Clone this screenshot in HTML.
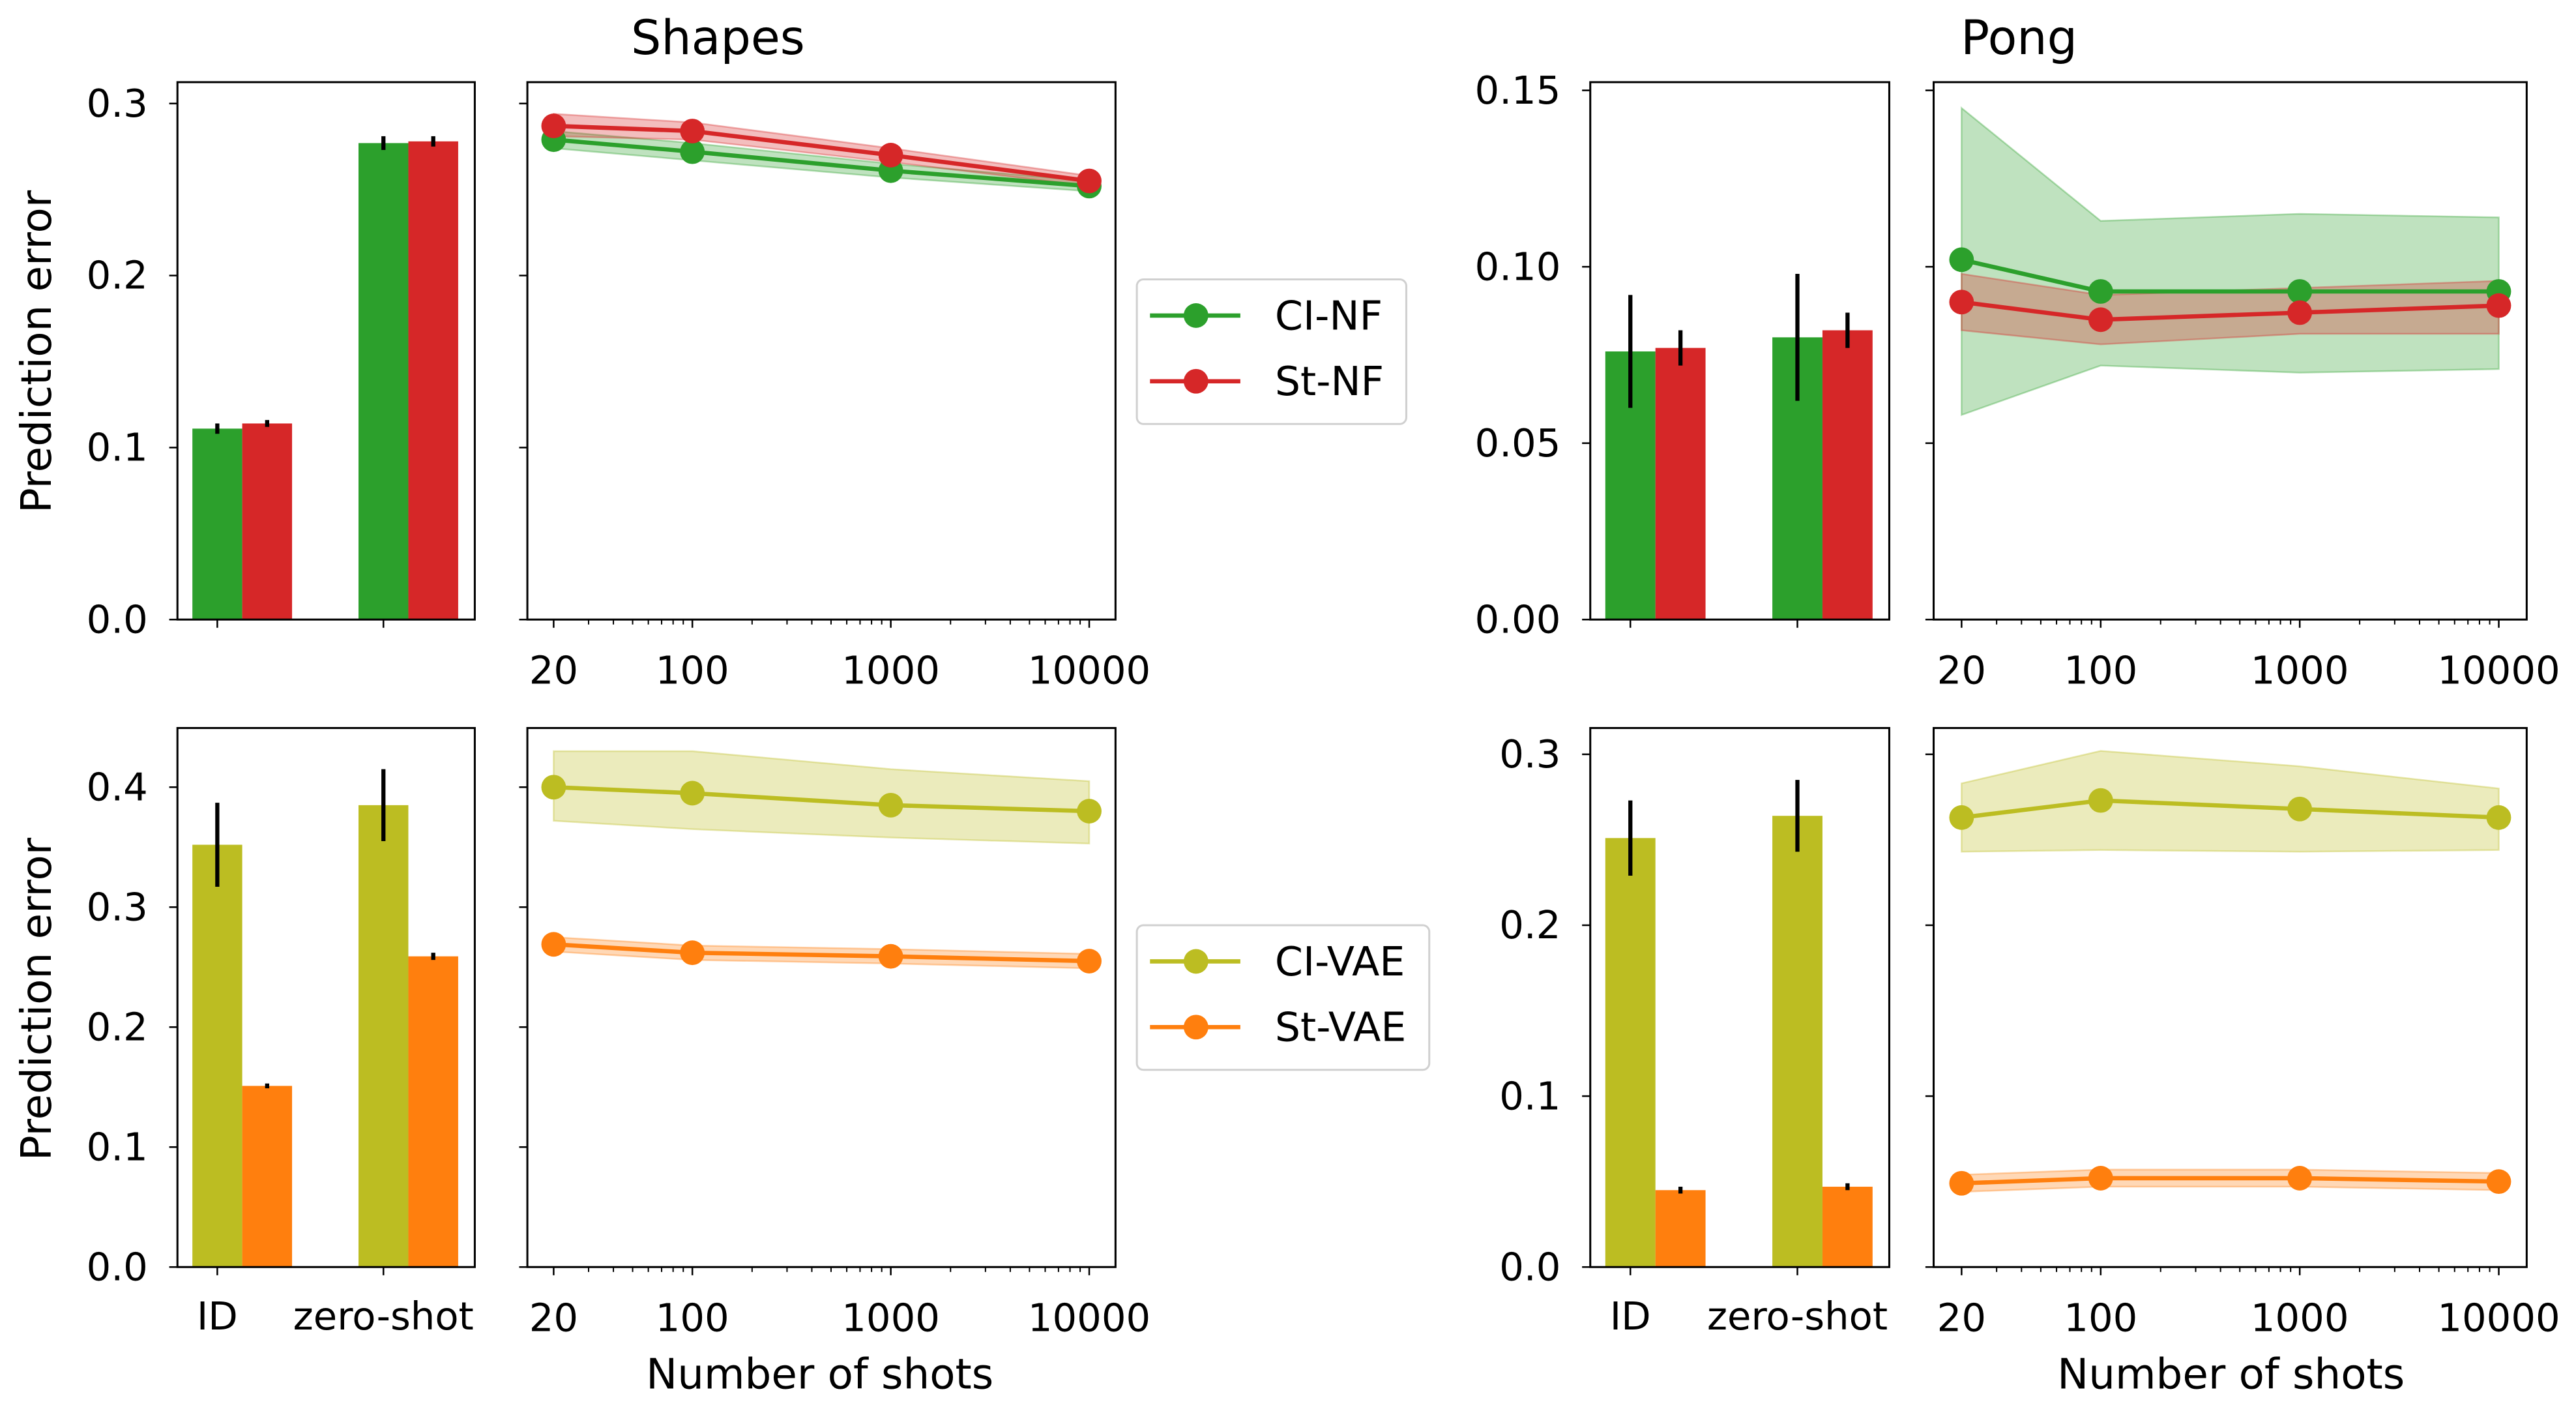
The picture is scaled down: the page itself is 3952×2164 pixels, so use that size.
<!DOCTYPE html>
<html><head><meta charset="utf-8"><style>
html,body{margin:0;padding:0;background:#fff}
svg{display:block}
text{font-family:"DejaVu Sans","Liberation Sans",sans-serif;fill:#000}
</style></head><body>
<svg id="fig" width="3952" height="2164" viewBox="0 0 1568 858.6" xmlns="http://www.w3.org/2000/svg"></svg>
<script>
// ---------- data ----------
const barCats = ["ID","zero-shot"];
const shots = [20,100,1000,10000];
const xTickLabels = ["20","100","1000","10000"];
// Shapes NF
const shNF_barCI = [0.111,0.277], shNF_barCIerr=[0.003,0.004];
const shNF_barSt = [0.114,0.278], shNF_barSterr=[0.002,0.003];
const shNF_lineCI = [0.279,0.272,0.261,0.252], shNF_lineCIlo=[0.274,0.267,0.257,0.249], shNF_lineCIhi=[0.284,0.277,0.265,0.255];
const shNF_lineSt = [0.287,0.284,0.270,0.255], shNF_lineStlo=[0.281,0.279,0.266,0.252], shNF_lineSthi=[0.294,0.289,0.274,0.258];
// Pong NF
const pgNF_barCI = [0.076,0.080], pgNF_barCIerr=[0.016,0.018];
const pgNF_barSt = [0.077,0.082], pgNF_barSterr=[0.005,0.005];
const pgNF_lineCI = [0.102,0.093,0.093,0.093], pgNF_lineCIlo=[0.058,0.072,0.070,0.071], pgNF_lineCIhi=[0.145,0.113,0.115,0.114];
const pgNF_lineSt = [0.090,0.085,0.087,0.089], pgNF_lineStlo=[0.082,0.078,0.081,0.081], pgNF_lineSthi=[0.098,0.092,0.094,0.096];
// Shapes VAE
const shV_barCI = [0.352,0.385], shV_barCIerr=[0.035,0.030];
const shV_barSt = [0.151,0.259], shV_barSterr=[0.002,0.003];
const shV_lineCI = [0.400,0.395,0.385,0.380], shV_lineCIlo=[0.372,0.365,0.358,0.353], shV_lineCIhi=[0.430,0.430,0.415,0.405];
const shV_lineSt = [0.269,0.262,0.259,0.255], shV_lineStlo=[0.263,0.256,0.253,0.249], shV_lineSthi=[0.275,0.268,0.265,0.261];
// Pong VAE
const pgV_barCI = [0.251,0.264], pgV_barCIerr=[0.022,0.021];
const pgV_barSt = [0.045,0.047], pgV_barSterr=[0.002,0.002];
const pgV_lineCI = [0.263,0.273,0.268,0.263], pgV_lineCIlo=[0.243,0.244,0.243,0.244], pgV_lineCIhi=[0.283,0.302,0.293,0.280];
const pgV_lineSt = [0.049,0.052,0.052,0.050], pgV_lineStlo=[0.044,0.047,0.047,0.045], pgV_lineSthi=[0.054,0.057,0.057,0.055];

const yTicksA=[0,0.1,0.2,0.3], yTicksB=[0,0.05,0.10,0.15], yTicksC=[0,0.1,0.2,0.3,0.4], yTicksD=[0,0.1,0.2,0.3];
const yLabA=["0.0","0.1","0.2","0.3"], yLabB=["0.00","0.05","0.10","0.15"], yLabC=["0.0","0.1","0.2","0.3","0.4"], yLabD=["0.0","0.1","0.2","0.3"];

const GREEN="#2ca02c",RED="#d62728",OLIVE="#bcbd22",ORANGE="#ff7f0e";
const TICK=23.5;
const svg=document.getElementById('fig');
const NS="http://www.w3.org/2000/svg";
function el(tag,attrs,parent,txt){const e=document.createElementNS(NS,tag);for(const k in attrs)e.setAttribute(k,attrs[k]);if(txt!==undefined)e.textContent=txt;(parent||svg).appendChild(e);return e;}

function yScale(y0px,vAtRef,refPx){return v=>y0px-(y0px-refPx)*v/vAtRef;}

function barPanel(name,x0,x1,ytop,ybot,ys,ticks,labs,ciV,ciE,stV,stE,c1,c2,showX){
  const g=el('g',{},svg);
  
  
  const xs=v=>x0+ (v+0.24)*(x1-x0)/1.79;
  const w=0.3*(x1-x0)/1.79;
  for(let i=0;i<barCats.length;i++){
    const xc=xs(i);
    const b1=el('rect',{x:xc-w/2,y:ys(ciV[i]),width:w,height:ys(0)-ys(ciV[i]),fill:c1},g);
    
    
    const b2=el('rect',{x:xc+w/2,y:ys(stV[i]),width:w,height:ys(0)-ys(stV[i]),fill:c2},g);
    
    
    el('line',{x1:xc,x2:xc,y1:ys(ciV[i]-ciE[i]),y2:ys(ciV[i]+ciE[i]),stroke:'#000','stroke-width':2.5},g);
    el('line',{x1:xc+w,x2:xc+w,y1:ys(stV[i]-stE[i]),y2:ys(stV[i]+stE[i]),stroke:'#000','stroke-width':2.5},g);
    el('line',{x1:xc,x2:xc,y1:ybot,y2:ybot+5,stroke:'#000','stroke-width':1},g);
    if(showX){const t=el('text',{x:xc,y:ybot+38,'font-size':TICK,'text-anchor':'middle'},g,barCats[i]);
      }
  }
  ticks.forEach((v,i)=>{const y=ys(v);
    el('line',{x1:x0-5,x2:x0,y1:y,y2:y,stroke:'#000','stroke-width':1},g);
    const t=el('text',{x:x0-18,y:y+8,'font-size':TICK,'text-anchor':'end'},g,labs[i]);
    });
  el('rect',{x:x0,y:ytop,width:x1-x0,height:ybot-ytop,fill:'none',stroke:'#000','stroke-width':1.2},g);
}

function linePanel(name,x0,x1,ytop,ybot,ys,ticks,x20,x10k,series){
  const g=el('g',{},svg);
  
  
  const dec=(x10k-x20)/Math.log10(10000/20);
  const xs=v=>x20+(Math.log10(v)-Math.log10(20))*dec;
  series.forEach(s=>{
    let d='';shots.forEach((n,i)=>{d+=(i?'L':'M')+xs(n)+','+ys(s.hi[i]);});
    for(let i=shots.length-1;i>=0;i--)d+='L'+xs(shots[i])+','+ys(s.lo[i]);
    const p=el('path',{d:d+'Z',fill:s.c,'fill-opacity':0.3,stroke:s.c,'stroke-opacity':0.35,'stroke-width':1},g);
    
  });
  series.forEach(s=>{
    const pts=shots.map((n,i)=>xs(n)+','+ys(s.v[i])).join(' ');
    const l=el('polyline',{points:pts,fill:'none',stroke:s.c,'stroke-width':2.6},g);
    
    shots.forEach((n,i)=>{const c=el('circle',{cx:xs(n),cy:ys(s.v[i]),r:7.5,fill:s.c},g);
      });
  });
  ticks.forEach(v=>{const y=ys(v);el('line',{x1:x0-5,x2:x0,y1:y,y2:y,stroke:'#000','stroke-width':1},g);});
  shots.forEach((n,i)=>{const x=xs(n);el('line',{x1:x,x2:x,y1:ybot,y2:ybot+5,stroke:'#000','stroke-width':1},g);
    const t=el('text',{x:x,y:ybot+39,'font-size':TICK,'text-anchor':'middle'},g,xTickLabels[i]);
    });
  [30,40,50,60,70,80,90,200,300,400,500,600,700,800,900,2000,3000,4000,5000,6000,7000,8000,9000].forEach(m=>{
    const x=xs(m);el('line',{x1:x,x2:x,y1:ybot,y2:ybot+3,stroke:'#000','stroke-width':0.8},g);});
  el('rect',{x:x0,y:ytop,width:x1-x0,height:ybot-ytop,fill:'none',stroke:'#000','stroke-width':1.2},g);
}

function legend(name,x,y,w,items){
  const g=el('g',{},svg);
  
  el('rect',{x:x,y:y,width:w,height:88,rx:4,fill:'#fff',stroke:'#d0d0d0','stroke-width':1.2},g);
  items.forEach((it,i)=>{const yy=y+22+i*40;
    const e=el('g',{},g);
    el('line',{x1:x+8,x2:x+63,y1:yy,y2:yy,stroke:it.c,'stroke-width':2.6},e);
    el('circle',{cx:x+36,cy:yy,r:7.5,fill:it.c},e);
    el('text',{x:x+84,y:yy+8.5,'font-size':24.5},e,it.n);
  });
}

const yA=yScale(377,0.3,63), yB=yScale(377,0.15,55), yC=yScale(771,0.4,479), yD=yScale(771,0.3,459);
barPanel('shapes-nf-bars',108,289,50,377,yA,yTicksA,yLabA,shNF_barCI,shNF_barCIerr,shNF_barSt,shNF_barSterr,GREEN,RED,false);
linePanel('shapes-nf-lines',321,679,50,377,yA,yTicksA,337,663,[
 {n:'ci-nf',c:GREEN,v:shNF_lineCI,lo:shNF_lineCIlo,hi:shNF_lineCIhi},{n:'st-nf',c:RED,v:shNF_lineSt,lo:shNF_lineStlo,hi:shNF_lineSthi}]);
barPanel('pong-nf-bars',968,1150,50,377,yB,yTicksB,yLabB,pgNF_barCI,pgNF_barCIerr,pgNF_barSt,pgNF_barSterr,GREEN,RED,false);
linePanel('pong-nf-lines',1177,1538,50,377,yB,yTicksB,1194,1521,[
 {n:'ci-nf',c:GREEN,v:pgNF_lineCI,lo:pgNF_lineCIlo,hi:pgNF_lineCIhi},{n:'st-nf',c:RED,v:pgNF_lineSt,lo:pgNF_lineStlo,hi:pgNF_lineSthi}]);
barPanel('shapes-vae-bars',108,289,443,771,yC,yTicksC,yLabC,shV_barCI,shV_barCIerr,shV_barSt,shV_barSterr,OLIVE,ORANGE,true);
linePanel('shapes-vae-lines',321,679,443,771,yC,yTicksC,337,663,[
 {n:'ci-vae',c:OLIVE,v:shV_lineCI,lo:shV_lineCIlo,hi:shV_lineCIhi},{n:'st-vae',c:ORANGE,v:shV_lineSt,lo:shV_lineStlo,hi:shV_lineSthi}]);
barPanel('pong-vae-bars',968,1150,443,771,yD,yTicksD,yLabD,pgV_barCI,pgV_barCIerr,pgV_barSt,pgV_barSterr,OLIVE,ORANGE,true);
linePanel('pong-vae-lines',1177,1538,443,771,yD,yTicksD,1194,1521,[
 {n:'ci-vae',c:OLIVE,v:pgV_lineCI,lo:pgV_lineCIlo,hi:pgV_lineCIhi},{n:'st-vae',c:ORANGE,v:pgV_lineSt,lo:pgV_lineStlo,hi:pgV_lineSthi}]);

legend('legend-nf',692,170,164,[{n:'CI-NF',c:GREEN},{n:'St-NF',c:RED}]);
legend('legend-vae',692,563,178,[{n:'CI-VAE',c:OLIVE},{n:'St-VAE',c:ORANGE}]);

function label(txt,x,y,size,rot,nm){const t=el('text',{x:x,y:y,'font-size':size,'text-anchor':'middle',transform:rot?`rotate(-90 ${x} ${y})`:''},svg,txt);
  }
label('Shapes',437,33,29,false,'title-shapes');
label('Pong',1229,33,29,false,'title-pong');
label('Prediction error',31,214,25.5,true,'y-axis-title-top');
label('Prediction error',31,608,25.5,true,'y-axis-title-bottom');
label('Number of shots',499,845,25.5,false,'x-axis-title-shapes');
label('Number of shots',1358,845,25.5,false,'x-axis-title-pong');
</script>
</body></html>
